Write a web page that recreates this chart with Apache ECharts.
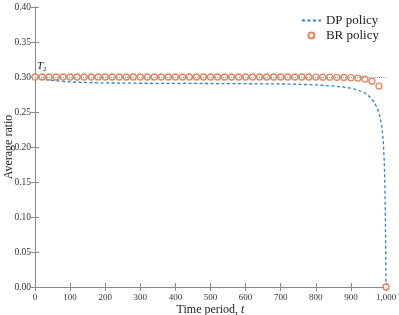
<!DOCTYPE html>
<html><head><meta charset="utf-8">
<script src="https://cdn.jsdelivr.net/npm/echarts@6/dist/echarts.min.js"></script>
<style>html,body{margin:0;padding:0;background:#fff}#c{width:399px;height:315px}</style>
</head><body><div id="c"></div>
<script>
var dpT = [0,10,20,40,60,100,150,200,300,400,500,600,700,750,800,850,880,900,920,940,955,965,975,982,988,992,995,997,999,1000];
var dpV = [0.300,0.2985,0.2972,0.2955,0.2944,0.2930,0.2920,0.2915,0.2911,0.2909,0.2907,0.2904,0.2900,0.2896,0.2887,0.2870,0.2855,0.2840,0.2815,0.2770,0.2710,0.2650,0.2560,0.2450,0.2300,0.2100,0.1800,0.1400,0.0700,0.0];
var brT = [0,20,40,60,80,100,120,140,160,180,200,220,240,260,280,300,320,340,360,380,400,420,440,460,480,500,520,540,560,580,600,620,640,660,680,700,720,740,760,780,800,820,840,860,880,900,920,940,960,980,1000];
var brV = [0.300,0.300,0.300,0.300,0.300,0.300,0.300,0.300,0.300,0.300,0.300,0.300,0.300,0.300,0.300,0.300,0.300,0.300,0.300,0.300,0.300,0.300,0.300,0.300,0.300,0.300,0.300,0.300,0.300,0.300,0.300,0.300,0.300,0.300,0.300,0.300,0.300,0.300,0.300,0.300,0.2999,0.2998,0.2997,0.2995,0.2993,0.2990,0.2985,0.2970,0.2940,0.2870,0.0];
var xTicks = [0,100,200,300,400,500,600,700,800,900,1000];
var yTicks = [0,0.05,0.10,0.15,0.20,0.25,0.30,0.35,0.40];
var refY = 0.30;

var font = 'Liberation Serif';
var axisCol = '#8a8a8a';
var chart = echarts.init(document.getElementById('c'));
function pairs(t, v){ return t.map(function(x,i){return [x, v[i]];}); }
var baseX = {type:'value', min:0, max:1000, interval:100,
  axisLine:{show:true,lineStyle:{color:axisCol,width:1}},
  axisTick:{show:true,inside:true,length:4,lineStyle:{color:axisCol}},
  splitLine:{show:false}};
var baseY = {type:'value', min:0, max:0.4, interval:0.05,
  axisLine:{show:true,lineStyle:{color:axisCol,width:1}},
  axisTick:{show:true,inside:true,length:4,lineStyle:{color:axisCol}},
  splitLine:{show:false}};
chart.setOption({
  animation:false,
  grid:{left:35,right:13,top:7,bottom:28,containLabel:false,outerBoundsMode:'none'},
  xAxis:[
    Object.assign({}, baseX, {position:'bottom',
      axisLabel:{color:'#333',fontFamily:font,fontSize:9,margin:6,
        formatter:function(v){return v>=1000? '1,000': String(v);}},
      name:'{n|Time period, }{i|t}', nameLocation:'middle', nameGap:17, nameMoveOverlap:false,
      nameTextStyle:{rich:{n:{fontFamily:font,fontSize:12,color:'#222'},i:{fontFamily:font,fontStyle:'italic',fontSize:12,color:'#222'}}}}),
    Object.assign({}, baseX, {position:'top', axisLabel:{show:false}})
  ],
  yAxis:[
    Object.assign({}, baseY, {position:'left',
      axisLabel:{color:'#333',fontFamily:font,fontSize:9.5,margin:4,
        formatter:function(v){return v.toFixed(2);}},
      name:'Average ratio', nameLocation:'middle', nameGap:20, nameMoveOverlap:false,
      nameTextStyle:{fontFamily:font,fontSize:12,color:'#222'}}),
    Object.assign({}, baseY, {position:'right', axisLabel:{show:false}})
  ],
  legend:{orient:'vertical', right:15, top:9, itemGap:2, itemWidth:19, itemHeight:6,
    textStyle:{fontFamily:font,fontSize:13,color:'#222'},
    data:[{name:'DP policy', itemStyle:{opacity:0}},{name:'BR policy', icon:'circle'}]},
  series:[
    {name:'DP policy', type:'line', data:pairs(dpT,dpV), symbol:'none', smooth:false,
     lineStyle:{color:'#2b82cb', width:1.3, type:[3,2.5]}, itemStyle:{color:'#2b82cb'},
     markLine:{silent:true, symbol:'none', animation:false,
       lineStyle:{color:'#9a9a9a', type:'dotted', width:1},
       label:{show:true, position:'insideStartTop', distance:[2,4],
         formatter:'{t|T}{s|2}',
         rich:{t:{fontFamily:font,fontStyle:'italic',fontSize:11,color:'#222'},
               s:{fontFamily:font,fontSize:7,color:'#222',verticalAlign:'bottom',padding:[6,0,0,0]}}},
       data:[{yAxis:refY}]}},
    {name:'BR policy', type:'scatter', data:pairs(brT,brV), symbol:'circle', symbolSize:6,
     itemStyle:{color:'#ffffff', borderColor:'#e0652f', borderWidth:1.3}, z:3}
  ]
});
</script></body></html>
